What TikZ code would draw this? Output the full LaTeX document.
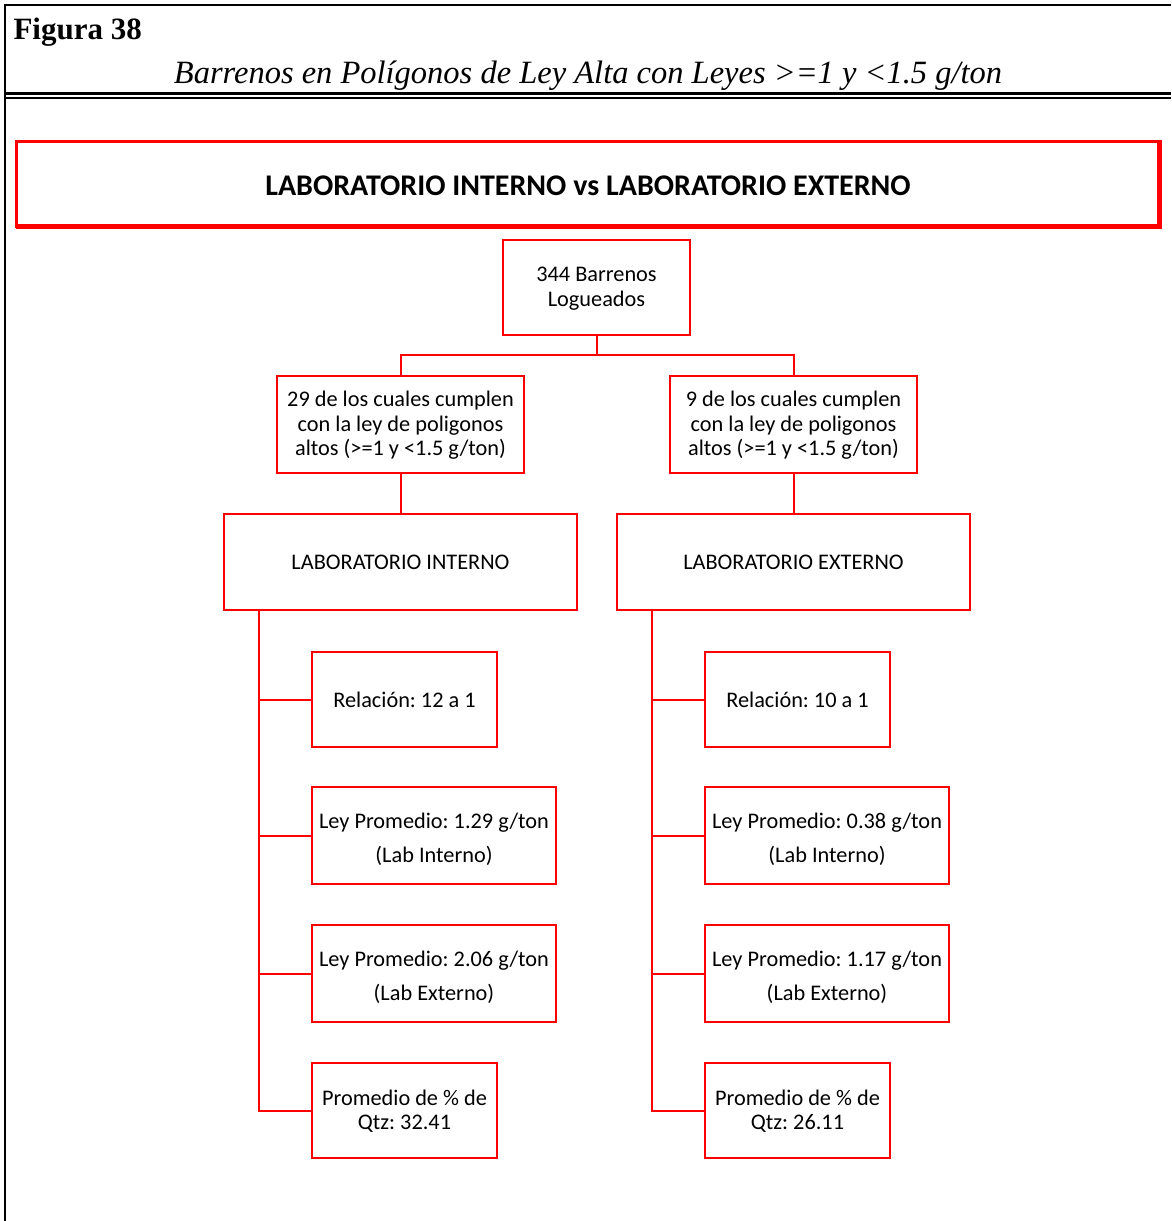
\documentclass[tikz,border=0pt]{standalone}
\usepackage{fontspec}
\setmainfont{Liberation Serif}
\newfontfamily\calfont{Carlito}
\frenchspacing
\begin{document}
\begin{tikzpicture}[x=1pt,y=-1pt,
  box/.style={draw=red, line width=2pt, align=center, inner sep=0pt,
    font=\calfont\fontsize{22.3}{24.5}\selectfont},
  tallbox/.style={box, font=\calfont\fontsize{22.3}{34}\selectfont},
  link/.style={draw=red, line width=2pt},
  frame/.style={draw=black, line width=2.6pt}]
\useasboundingbox (0,0) rectangle (1171,1221);
\fill[white] (0,0) rectangle (1171,1221);

% page frame and caption rules
\draw[frame] (3.7,5) -- (1171,5);
\draw[frame] (5,3.7) -- (5,1221);
\draw[black, line width=2.4pt] (5,93.5) -- (1171,93.5);
\draw[black, line width=2.4pt] (5,98) -- (1171,98);

\node[anchor=west, font=\bfseries\fontsize{31}{34}\selectfont] (fig) at (10,32) {Figura 38};
\node[font=\itshape\fontsize{32.5}{36}\selectfont] (sub) at (588,75.5) {Barrenos en Polígonos de Ley Alta con Leyes >=1 y <1.5 g/ton};

% heading banner
\draw[red, line width=3pt] (16,141) rectangle (1158,226);
\draw[red, line width=5pt] (1159.5,139.5) -- (1159.5,226.5) -- (16,226.5);
\node[font=\calfont\bfseries\fontsize{30}{32}\selectfont] (title) at (588,186) {LABORATORIO INTERNO vs LABORATORIO EXTERNO};

% tree
\node[box, minimum width=187, minimum height=95] (root) at (596.5,287.5) {\strut344 Barrenos\\Logueados};
\node[box, minimum width=247, minimum height=97] (A) at (400.5,424.5) {\strut29 de los cuales cumplen\\con la ley de poligonos\\altos (>=1 y <1.5 g/ton)};
\node[box, minimum width=247, minimum height=97] (B) at (793.5,424.5) {\strut9 de los cuales cumplen\\con la ley de poligonos\\altos (>=1 y <1.5 g/ton)};
\node[box, minimum width=353, minimum height=96] (LI) at (400.5,562) {LABORATORIO INTERNO};
\node[box, minimum width=353, minimum height=96] (LE) at (793.5,562) {LABORATORIO EXTERNO};

\node[box, minimum width=185, minimum height=95] (l1) at (404.5,699.5) {Relación: 12 a 1};
\node[tallbox, minimum width=244, minimum height=97] (l2) at (434,835.5) {\strut Ley Promedio: 1.29 g/ton\\(Lab Interno)};
\node[tallbox, minimum width=244, minimum height=97] (l3) at (434,973.5) {\strut Ley Promedio: 2.06 g/ton\\(Lab Externo)};
\node[box, minimum width=185, minimum height=95] (l4) at (404.5,1110.5) {\strut Promedio de \% de\\Qtz: 32.41};

\node[box, minimum width=185, minimum height=95] (r1) at (797.5,699.5) {Relación: 10 a 1};
\node[tallbox, minimum width=244, minimum height=97] (r2) at (827,835.5) {\strut Ley Promedio: 0.38 g/ton\\(Lab Interno)};
\node[tallbox, minimum width=244, minimum height=97] (r3) at (827,973.5) {\strut Ley Promedio: 1.17 g/ton\\(Lab Externo)};
\node[box, minimum width=185, minimum height=95] (r4) at (797.5,1110.5) {\strut Promedio de \% de\\Qtz: 26.11};

\coordinate (split) at (596.5,355);
\draw[link] (root.south) -- (split);
\draw[link] (A.north) |- (split);
\draw[link] (B.north) |- (split);
\draw[link] (A.south) -- (LI.north);
\draw[link] (B.south) -- (LE.north);

\coordinate (lspine) at (259,610);
\coordinate (rspine) at (652,610);
\draw[link] (lspine) |- (l4.west);
\foreach \n in {l1,l2,l3} \draw[link] (lspine |- \n.west) -- (\n.west);
\draw[link] (rspine) |- (r4.west);
\foreach \n in {r1,r2,r3} \draw[link] (rspine |- \n.west) -- (\n.west);
\end{tikzpicture}
\end{document}
